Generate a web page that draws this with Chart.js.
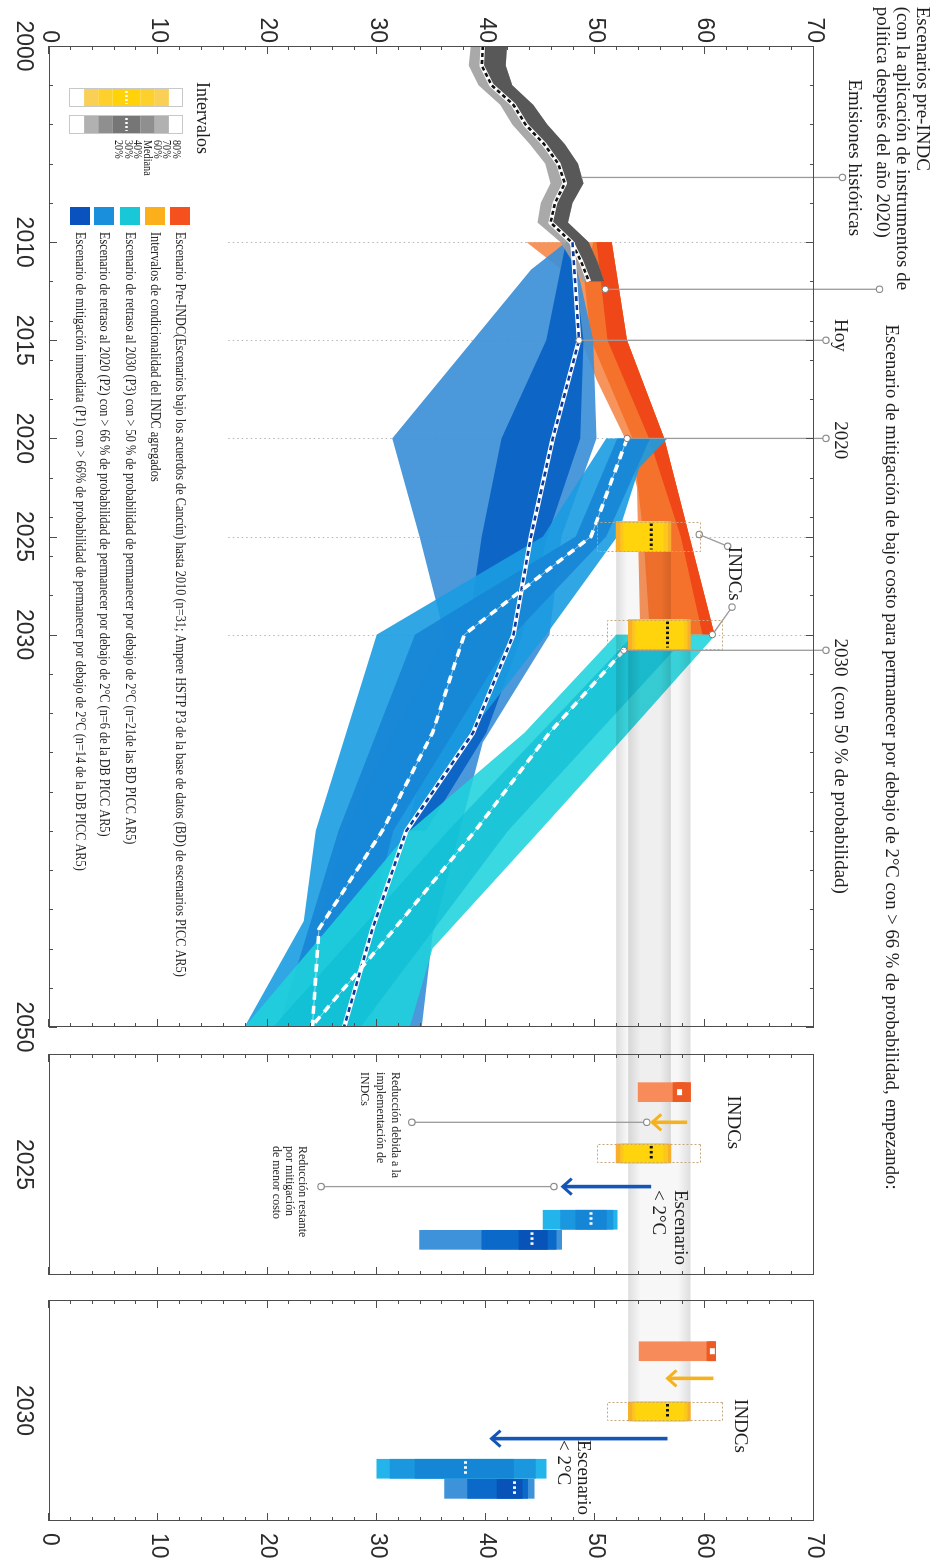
<!DOCTYPE html>
<html lang="es">
<head>
<meta charset="utf-8">
<title>Emisiones globales: escenarios pre-INDC, INDC y &lt; 2°C</title>
<script src="https://cdn.jsdelivr.net/npm/chart.js@4.4.1/dist/chart.umd.min.js"></script>
<style>
  html, body { margin: 0; padding: 0; background: #fff; }
  body { width: 943px; height: 1564px; overflow: hidden; position: relative; }
  /* la figura se compone en horizontal y se gira 90° */
  #lienzo { position: absolute; left: 0; top: 0; width: 1564px; height: 943px;
            transform-origin: 0 0; transform: translate(943px, 0) rotate(90deg); }
  #lienzo canvas { position: absolute; top: 0; }
</style>
</head>
<body>
<div id="lienzo">
  <canvas id="principal" width="1564" height="943" style="left:0"></canvas>
  <canvas id="panel2025" width="250" height="943" style="left:1040px"></canvas>
  <canvas id="panel2030" width="279" height="943" style="left:1285px"></canvas>
</div>
<script>
const SERIF = '"Liberation Serif", "Times New Roman", serif';
const SANS = '"Liberation Sans", Arial, sans-serif';

// ---------- ejes ----------
const marcasAnio = [2000, 2002, 2004, 2006, 2008, 2010, 2012, 2014, 2015, 2016, 2018, 2020, 2022, 2024, 2025,
                    2026, 2028, 2030, 2032, 2034, 2036, 2038, 2040, 2042, 2044, 2046, 2048, 2050];
const etiquetasAnio = [2000, 2010, 2015, 2020, 2025, 2030, 2050];
const marcasValor = [0, 10, 20, 30, 40, 50, 60, 70];
const aniosPunteados = [2010, 2015, 2020, 2025, 2030];
const aniosPanel = ['2025', '2030'];

// ---------- emisiones históricas ----------
const aniosHist = [2000, 2001, 2002, 2003, 2004, 2005, 2006, 2007, 2008, 2009, 2010, 2011, 2012];
const histMediana = [39.7, 39.6, 40.5, 42.5, 43.6, 45.3, 46.6, 47.2, 46.3, 45.9, 47.8, 48.7, 49.4];
const histBajo    = [38.6, 38.4, 39.3, 41.3, 42.4, 44.0, 45.4, 45.9, 45.0, 44.7, 46.8, 47.9, 48.8];
const histAlto    = [41.9, 41.8, 42.4, 44.3, 45.6, 47.2, 48.4, 48.9, 47.9, 47.5, 49.4, 50.2, 50.8];

// ---------- escenario pre-INDC ----------
const preExtBajo = [[2010, 43.7], [2012, 48.3], [2015, 48.7], [2017, 50.1], [2020, 52.7], [2022.5, 53.8], [2030, 54.1]];
const preExtAlto = [[2010, 51.5], [2015, 52.9], [2020, 56.3], [2030, 60.9]];
const preMedBajo = [[2010, 49.8], [2012, 49.0], [2015, 49.6], [2020, 53.4], [2025, 54.4], [2030, 55.0]];
const preMedAlto = [[2010, 51.5], [2015, 52.9], [2020, 56.3], [2030, 60.9]];
const preIntBajo = [[2010, 50.1], [2015, 51.1], [2020, 54.9], [2025, 57.8], [2030, 59.8]];
const preIntAlto = [[2010, 51.5], [2015, 52.9], [2020, 56.3], [2030, 60.9]];

// ---------- P1: mitigación inmediata ----------
const p1ExtBajo = [[2010, 47.3], [2011.4, 44.1], [2020, 31.4], [2025, 33.9], [2030, 36.2], [2035, 31.5], [2040, 27.0], [2045, 24.5], [2050, 22.0]];
const p1ExtAlto = [[2010, 47.6], [2012, 48.6], [2015, 49.8], [2020, 50.1], [2025, 46.9], [2030, 45.8], [2035.5, 39.7], [2045.3, 35.1], [2050, 34.1]];
const p1IntBajo = [[2010, 47.3], [2015, 45.5], [2020, 41.4], [2025, 39.6], [2030, 38.3], [2035, 35.2], [2040, 32.7]];
const p1IntAlto = [[2010, 47.8], [2015, 48.9], [2020, 48.6], [2025, 45.6], [2030, 43.3], [2035, 40.0], [2040, 34.5]];
const p1Mediana = [[2010, 47.9], [2015, 48.5], [2020, 46.1], [2025, 44.1], [2030, 42.5], [2035, 38.8], [2040, 32.7], [2045, 29.6], [2050, 27.0]];

// ---------- P2: retraso al 2020 ----------
const p2ExtBajo = [[2020, 51.0], [2025, 45.2], [2030, 30.0], [2040, 24.4], [2044.6, 23.3], [2050, 17.9]];
const p2ExtAlto = [[2020, 56.6], [2021.5, 54.0], [2025, 52.0], [2030, 45.5], [2035, 38.5], [2040, 33.0], [2045, 30.5], [2050, 29.6]];
const p2IntBajo = [[2020, 52.0], [2025, 48.2], [2030, 33.5], [2040, 26.5], [2050, 21.0]];
const p2IntAlto = [[2020, 55.0], [2025, 51.0], [2030, 42.5], [2040, 31.5], [2050, 27.0]];
const p2Mediana = [[2020, 52.9], [2025, 49.6], [2030, 38.0], [2035, 35.1], [2040, 30.5], [2045, 24.7], [2050, 24.1]];

// ---------- P3: retraso al 2030 ----------
const p3ExtBajo = [[2030, 51.9], [2035, 43.5], [2040, 33.0], [2045, 25.5], [2050, 17.9]];
const p3ExtAlto = [[2030, 61.0], [2035, 53.0], [2040, 44.9], [2046, 35.1], [2050, 33.0]];
const p3IntBajo = [[2030, 53.5], [2040, 36.5], [2050, 20.5]];
const p3IntAlto = [[2030, 58.5], [2040, 42.0], [2050, 28.5]];
const p3Mediana = [[2030.8, 52.6], [2035, 45.8], [2040, 39.0], [2045, 31.6], [2050, 24.0]];

// puntos marcados con línea guía
const puntosLlamada = [[2012.4, 50.9], [2015, 48.5], [2020, 52.9], [2030.8, 52.6], [2030, 60.7]];

// ---------- intervalos por año (p20, p30, p40, mediana, p60, p70, p80) ----------
const pre2025  = [53.9, 57.1, 57.4, 57.7, 58.2, 58.7, 58.7];
const indc2025 = [51.9, 52.3, 52.6, 55.1, 56.2, 56.6, 56.9];
const p2_2025  = [45.2, 46.8, 48.2, 49.6, 51.0, 51.6, 52.0];
const p1_2025  = [33.9, 39.6, 43.0, 44.2, 45.6, 46.4, 46.9];
const pre2030  = [54.0, 60.2, 60.4, 60.7, 60.9, 61.0, 61.0];
const indc2030 = [53.0, 53.4, 53.7, 56.6, 58.1, 58.4, 58.7];
const p2_2030  = [30.0, 31.2, 33.5, 38.1, 42.5, 44.5, 45.5];
const p1_2030  = [36.2, 38.3, 41.0, 42.6, 43.3, 43.8, 44.4];
const contornoIndc2025 = [50.3, 59.7];
const contornoIndc2030 = [51.2, 61.7];

// reducciones (desde, hasta)
const flechaIndc2025 = [58.4, 55.2];
const flechaMitig2025 = [55.1, 47.0];
const flechaIndc2030 = [60.8, 56.6];
const flechaMitig2030 = [56.6, 40.5];

// ---------- leyenda ----------
const leyendaColores = ['#f4511e', '#fbb01b', '#19c8d6', '#1a8fdc', '#0a52bd'];
const leyendaTextos = [
  'Escenario Pre-INDC(Escenarios bajo los acuerdos de Cancún) hasta 2010 (n=31; Ampere HSTP P3 de la base de datos (BD) de escenarios PICC AR5)',
  'Intervalos de condicionalidad del INDC agregados',
  'Escenario de retraso al 2030 (P3) con > 50 % de probabilidad de permanecer por debajo de 2°C (n=21de las BD PICC AR5)',
  'Escenario de retraso al 2020 (P2) con > 66 % de probabilidad de permanecer por debajo de 2°C (n=6 de la DB PICC AR5)',
  'Escenario de mitigación inmediata (P1) con > 66% de probabilidad de permanecer por debajo de 2°C (n=14 de la DB PICC AR5)'
];
const intervalosEtiquetas = ['80%', '70%', '60%', 'Mediana', '40%', '30%', '20%'];

// colores de los tramos de barra (exterior, medio, interior)
const colPre = ['#f78c5a', '#ee5a24', '#ee5a24'];
const colIndc = ['#f6b02a', '#fdc61c', '#ffd40c'];
const colP2 = ['#22b4ea', '#1a97df', '#1585d6'];
const colP1 = ['#3e92d9', '#0b69c9', '#0853b8'];

// ---------- utilidades ----------
const zip = (xs, ys) => xs.map((x, i) => [x, ys[i]]);
const pts = arr => arr.map(([x, y]) => ({ x, y }));
const poligono = (bajo, alto) => pts(bajo).concat(pts(alto).reverse());

function banda(bajo, alto, color) {
  return { type: 'line', data: poligono(bajo, alto), fill: 'shape', backgroundColor: color,
           borderWidth: 0, pointRadius: 0, tension: 0 };
}
function linea(data, color, ancho, guiones) {
  return { type: 'line', data: pts(data), fill: false, borderColor: color, borderWidth: ancho,
           borderDash: guiones || [], pointRadius: 0, tension: 0, borderCapStyle: 'butt', borderJoinStyle: 'round' };
}
// tres capas anidadas de barra flotante (p20-p80, p30-p70, p40-p60)
function capas(entradas, colores, grosor, extra) {
  return [0, 1, 2].map(k => Object.assign({
    type: 'bar',
    data: entradas.map(([x, p]) => ({ x, y: [p[k], p[6 - k]] })),
    backgroundColor: colores[k], borderWidth: 0, barThickness: grosor, grouped: false
  }, k === 2 ? Object.assign({ medianas: entradas.map(e => e[1][3]) }, extra) : {}));
}
function ordenar(lista) { lista.forEach((d, i) => { d.order = -i; }); return lista; }

function texto(ctx, str, x, y, o) {
  o = o || {};
  ctx.save();
  ctx.font = (o.size || 19) + 'px ' + (o.fam || SERIF);
  ctx.fillStyle = o.color || '#1e1e1e';
  ctx.textAlign = o.align || 'left';
  ctx.textBaseline = 'middle';
  if (o.comprimir) ctx.fillText(str, x, y, ctx.measureText(str).width * o.comprimir);
  else if (o.ancho) ctx.fillText(str, x, y, o.ancho);
  else ctx.fillText(str, x, y);
  ctx.restore();
}
function circulo(ctx, x, y) {
  ctx.beginPath(); ctx.arc(x, y, 3.2, 0, Math.PI * 2);
  ctx.fillStyle = '#fff'; ctx.fill();
  ctx.strokeStyle = '#8c8c8c'; ctx.lineWidth = 1.2; ctx.stroke();
}
function guia(ctx, x1, y1, x2, y2, extremos) {
  ctx.save();
  ctx.strokeStyle = '#9b9b9b'; ctx.lineWidth = 1.3;
  ctx.beginPath(); ctx.moveTo(x1, y1); ctx.lineTo(x2, y2); ctx.stroke();
  circulo(ctx, x1, y1);
  if (extremos) circulo(ctx, x2, y2);
  ctx.restore();
}
function flecha(ctx, x, y1, y2, color) {
  const dir = Math.sign(y2 - y1);
  ctx.save();
  ctx.strokeStyle = color; ctx.lineWidth = 3.6; ctx.lineCap = 'butt';
  ctx.beginPath(); ctx.moveTo(x, y1); ctx.lineTo(x, y2); ctx.stroke();
  ctx.lineWidth = 3; ctx.lineJoin = 'miter';
  ctx.beginPath(); ctx.moveTo(x - 8, y2 - dir * 9); ctx.lineTo(x, y2); ctx.lineTo(x + 8, y2 - dir * 9); ctx.stroke();
  ctx.restore();
}
function franja(ctx, y, rango, xa, xb) {
  const ya = y.getPixelForValue(rango[1]), yb = y.getPixelForValue(rango[0]);
  const g = ctx.createLinearGradient(0, ya, 0, yb);
  g.addColorStop(0, 'rgba(0,0,0,0.13)');
  g.addColorStop(0.2, 'rgba(0,0,0,0.03)');
  g.addColorStop(0.8, 'rgba(0,0,0,0.03)');
  g.addColorStop(1, 'rgba(0,0,0,0.13)');
  ctx.save(); ctx.fillStyle = g; ctx.fillRect(xa, ya, xb - xa, yb - ya); ctx.restore();
}

// marco con marcas interiores
const marco = {
  id: 'marco',
  afterDatasetsDraw(chart, args, opts) {
    const { ctx, chartArea: a, scales: { x, y } } = chart;
    ctx.save();
    ctx.strokeStyle = '#4d4d4d'; ctx.lineWidth = 1;
    ctx.strokeRect(Math.round(a.left) + 0.5, Math.round(a.top) + 0.5, Math.round(a.width) - 1, Math.round(a.height) - 1);
    ctx.beginPath();
    for (let v = y.min; v <= y.max; v += 2) {
      const py = Math.round(y.getPixelForValue(v)) + 0.5, l = v % 10 === 0 ? 8 : 4;
      ctx.moveTo(a.left, py); ctx.lineTo(a.left + l, py);
      ctx.moveTo(a.right - l, py); ctx.lineTo(a.right, py);
    }
    if (opts.anios) {
      marcasAnio.forEach(t => {
        const px = Math.round(x.getPixelForValue(t)) + 0.5, l = etiquetasAnio.includes(t) ? 8 : 4;
        ctx.moveTo(px, a.bottom); ctx.lineTo(px, a.bottom - l);
        ctx.moveTo(px, a.top); ctx.lineTo(px, a.top + l);
      });
    }
    ctx.stroke();
    ctx.restore();
  }
};

// medianas punteadas y contornos de las barras
const marcasBarras = {
  id: 'marcasBarras',
  afterDatasetsDraw(chart) {
    const { ctx } = chart, y = chart.scales.y;
    chart.data.datasets.forEach((ds, i) => {
      if (!ds.medianas) return;
      chart.getDatasetMeta(i).data.forEach((b, j) => {
        const x0 = b.x - b.width / 2, x1 = b.x + b.width / 2;
        ctx.save();
        if (ds.contornos) {
          const ya = y.getPixelForValue(ds.contornos[j][1]), yb = y.getPixelForValue(ds.contornos[j][0]);
          ctx.strokeStyle = '#c3a67a'; ctx.lineWidth = 1; ctx.setLineDash([2, 2]);
          ctx.strokeRect(Math.round(x0) + 0.5, Math.round(ya) + 0.5, Math.round(b.width) - 1, Math.round(yb - ya));
        }
        const ym = y.getPixelForValue(ds.medianas[j]);
        if (ds.estiloMediana === 'bloque') {
          ctx.setLineDash([]);
          ctx.fillStyle = '#fff'; ctx.fillRect(b.x - 3, ym - 2.5, 6, 5);
        } else {
          ctx.strokeStyle = ds.estiloMediana === 'negro' ? '#111' : '#fff';
          ctx.lineWidth = 3; ctx.setLineDash([2.5, 2.5]);
          ctx.beginPath(); ctx.moveTo(x0 + 2, ym); ctx.lineTo(x1 - 2, ym); ctx.stroke();
        }
        ctx.restore();
      });
    });
  }
};

function ejeX(min, max, marcas, etiqueta) {
  return {
    type: 'linear', min, max, offset: false,
    grid: { display: false, drawTicks: false }, border: { display: false },
    afterBuildTicks: s => { s.ticks = marcas.map(v => ({ value: v })); },
    afterFit: s => { s.height = 49; s.paddingLeft = 0; s.paddingRight = 0; },
    ticks: { autoSkip: false, maxRotation: 0, minRotation: 0, padding: 12,
             font: { family: SANS, size: 23 }, color: '#2b2b2b', callback: etiqueta }
  };
}
function ejeY(pos, ancho, padding, visible) {
  return {
    position: pos, display: visible, min: 0, max: 70,
    grid: { display: false, drawTicks: false }, border: { display: false },
    afterBuildTicks: s => { s.ticks = marcasValor.map(v => ({ value: v })); },
    afterFit: s => { s.width = ancho; s.paddingTop = 0; s.paddingBottom = 0; },
    ticks: { padding, font: { family: SANS, size: 23 }, color: '#2b2b2b', callback: v => String(v) }
  };
}
const opcionesBase = {
  responsive: false, animation: false, devicePixelRatio: 1,
  events: [],
  plugins: { legend: { display: false }, tooltip: { enabled: false } }
};

// ================= gráfico principal 2000-2050 =================
const dsPrincipal = ordenar([
  banda(preExtBajo, preExtAlto, '#f7945c'),
  banda(preMedBajo, preMedAlto, '#f5722c'),
  banda(preIntBajo, preIntAlto, '#ef4717'),
  banda(p1ExtBajo, p1ExtAlto, 'rgba(61,144,215,0.93)'),
  banda(p1IntBajo, p1IntAlto, 'rgba(10,99,196,0.95)'),
  banda(p2ExtBajo, p2ExtAlto, 'rgba(27,156,226,0.9)'),
  banda(p2IntBajo, p2IntAlto, 'rgba(22,133,213,0.85)'),
  banda(p3ExtBajo, p3ExtAlto, 'rgba(31,211,220,0.88)'),
  banda(p3IntBajo, p3IntAlto, 'rgba(16,190,212,0.7)'),
  banda(zip(aniosHist, histBajo), zip(aniosHist, histAlto), 'rgba(160,160,160,0.9)'),
  banda(zip(aniosHist, histMediana), zip(aniosHist, histAlto), 'rgba(80,80,80,0.9)'),
  linea(zip(aniosHist, histMediana), '#ffffff', 4.5),
  linea(zip(aniosHist, histMediana), '#111111', 2.6, [4, 3]),
  linea(p1Mediana, '#ffffff', 4.5),
  linea(p1Mediana, '#0c3a9c', 2.6, [5, 4]),
  linea(p2Mediana, 'rgba(255,255,255,0.55)', 1),
  linea(p2Mediana, '#ffffff', 3.6, [8, 6]),
  linea(p3Mediana, 'rgba(255,255,255,0.55)', 1),
  linea(p3Mediana, '#ffffff', 3.6, [8, 6]),
  ...capas([[2025, indc2025], [2030, indc2030]], colIndc, 30,
           { estiloMediana: 'negro', contornos: [contornoIndc2025, contornoIndc2030] }),
  { type: 'line', data: pts(puntosLlamada), showLine: false, pointRadius: 3.2,
    pointBackgroundColor: '#fff', pointBorderColor: '#777', pointBorderWidth: 1, conGuias: true }
]);
dsPrincipal.find(d => d.type === 'bar').conFranjas = true;

const anotacionesPrincipal = {
  id: 'anotacionesPrincipal',
  beforeDatasetsDraw(chart) {
    const { ctx, scales: { x, y } } = chart;
    ctx.save();
    ctx.strokeStyle = '#b5b5b5'; ctx.lineWidth = 1; ctx.setLineDash([1.5, 3]);
    ctx.beginPath();
    aniosPunteados.forEach(t => {
      const px = Math.round(x.getPixelForValue(t)) + 0.5;
      ctx.moveTo(px, y.getPixelForValue(16.4)); ctx.lineTo(px, y.getPixelForValue(70));
    });
    ctx.stroke();
    ctx.restore();
  },
  beforeDatasetDraw(chart, args) {
    const ds = chart.data.datasets[args.index];
    const { ctx, scales: { x, y } } = chart;
    const X = v => x.getPixelForValue(v), Y = v => y.getPixelForValue(v);
    if (ds.conFranjas) {
      const m = chart.getDatasetMeta(args.index).data;
      franja(ctx, y, [indc2025[0], indc2025[6]], m[0].x + m[0].width / 2, 1040);
      franja(ctx, y, [indc2030[0], indc2030[6]], m[1].x + m[1].width / 2, 1040);
    }
    if (ds.conGuias) {
      guia(ctx, X(2006.7), Y(72.6), X(2006.7), Y(48.7));
      guia(ctx, X(2012.4), Y(76.0), X(puntosLlamada[0][0]), Y(puntosLlamada[0][1]));
      guia(ctx, X(2015), Y(71.1), X(puntosLlamada[1][0]), Y(puntosLlamada[1][1]));
      guia(ctx, X(2020), Y(71.1), X(puntosLlamada[2][0]), Y(puntosLlamada[2][1]));
      guia(ctx, X(2030.8), Y(71.1), X(puntosLlamada[3][0]), Y(puntosLlamada[3][1]));
      guia(ctx, X(2025.5), Y(62.1), X(2024.9), Y(contornoIndc2025[1] - 0.2), true);
      guia(ctx, X(2028.6), Y(62.5), X(puntosLlamada[4][0]), Y(puntosLlamada[4][1]));
    }
  },
  afterDraw(chart) {
    const { ctx, chartArea: a, scales: { x, y } } = chart;
    const X = v => x.getPixelForValue(v), Y = v => y.getPixelForValue(v);
    // textos superiores
    texto(ctx, 'Escenarios pre-INDC', X(1998.0), Y(79.9));
    texto(ctx, '(con la aplicación de instrumentos de', X(1998.0), Y(78.05));
    texto(ctx, 'política después del año 2020)', X(1998.0), Y(76.2));
    texto(ctx, 'Emisiones históricas', X(2005.7), Y(73.7), { align: 'center' });
    texto(ctx, 'Escenario de mitigación de bajo costo para permanecer por debajo de 2°C con > 66 % de probabilidad, empezando:',
          X(2014.2), Y(77.0), { ancho: 865 });
    texto(ctx, 'Hoy', X(2014.75), Y(72.4), { align: 'center' });
    texto(ctx, '2020', X(2020.1), Y(72.4), { align: 'center' });
    texto(ctx, '2030  (con 50 % de probabilidad)', X(2030.2), Y(72.4));
    texto(ctx, 'INDCs', X(2026.9), Y(62.7), { align: 'center' });

    // leyenda de escenarios
    leyendaColores.forEach((c, i) => {
      const yc = a.bottom - [131, 106, 81, 55, 31][i];
      ctx.fillStyle = c;
      ctx.fillRect(a.left + 161, yc - 10, 18, 20);
      texto(ctx, leyendaTextos[i], a.left + 186, yc, { size: 15, comprimir: 0.82 });
    });

    // leyenda de intervalos
    texto(ctx, 'Intervalos', a.left + 72, a.bottom - 153, { size: 18, align: 'center' });
    const yP = p => a.bottom - 21 - (p - 10) / 80 * 113;
    const barra = (x0, cols) => {
      const tramos = [[20, 30, cols[0]], [30, 40, cols[1]], [40, 60, cols[2]], [60, 70, cols[1]], [70, 80, cols[0]]];
      tramos.forEach(([p0, p1, c]) => { ctx.fillStyle = c; ctx.fillRect(x0, yP(p1), 19, yP(p0) - yP(p1)); });
      ctx.strokeStyle = '#c8c8c8'; ctx.lineWidth = 1;
      ctx.strokeRect(x0 + 0.5, Math.round(yP(90)) + 0.5, 18, Math.round(yP(10) - yP(90)));
      ctx.save();
      ctx.strokeStyle = '#fff'; ctx.lineWidth = 2.5; ctx.setLineDash([2, 2]);
      ctx.beginPath(); ctx.moveTo(x0 + 3, yP(50)); ctx.lineTo(x0 + 16, yP(50)); ctx.stroke();
      ctx.restore();
    };
    barra(a.left + 42, ['#f9cf55', '#fdd02c', '#ffd20a']);
    barra(a.left + 69, ['#b1b1b1', '#8f8f8f', '#767676']);
    intervalosEtiquetas.forEach((t, i) => texto(ctx, t, a.left + 94, a.bottom - 127 + i * 9.6, { size: 12, comprimir: 0.85 }));
  }
};

new Chart(document.getElementById('principal'), {
  type: 'line',
  data: { datasets: dsPrincipal },
  options: Object.assign({}, opcionesBase, {
    layout: { padding: { top: 129, right: 537, bottom: 0, left: 0 } },
    plugins: Object.assign({}, opcionesBase.plugins, { marco: { anios: true } }),
    scales: {
      x: ejeX(2000, 2050, marcasAnio, v => etiquetasAnio.includes(v) ? String(v) : ''),
      y: ejeY('left', 46, 3, true)
    }
  }),
  plugins: [anotacionesPrincipal, marcasBarras, marco]
});

// ================= paneles 2025 y 2030 =================
const posiciones2025 = { pre: 1.9, flechaIndc: 3.4, indc: 4.95, flechaMitig: 6.6, p2: 8.25, p1: 9.25 };
const posiciones2030 = { pre: 2.55, flechaIndc: 3.9, indc: 5.55, flechaMitig: 6.9, p2: 8.4, p1: 9.4 };

function datosPanel(pos, pre, indc, p2, p1, contorno) {
  return ordenar([
    ...capas([[pos.pre, pre]], colPre, 19, { estiloMediana: 'bloque' }),
    ...capas([[pos.indc, indc]], colIndc, 19, { estiloMediana: 'negro', contornos: [contorno] }),
    ...capas([[pos.p2, p2]], colP2, 19, { estiloMediana: 'blanco' }),
    ...capas([[pos.p1, p1]], colP1, 19, { estiloMediana: 'blanco' })
  ]);
}

function panel(id, anio, datos, padding, ejeDerecho, extras) {
  new Chart(document.getElementById(id), {
    type: 'bar',
    data: { datasets: datos },
    options: Object.assign({}, opcionesBase, {
      layout: { padding },
      plugins: Object.assign({}, opcionesBase.plugins, { marco: { anios: false } }),
      scales: {
        x: ejeX(0, 11, [5.5], () => anio),
        y: ejeDerecho ? ejeY('right', 43, 12, true) : ejeY('left', 0, 0, false)
      }
    }),
    plugins: [extras, marcasBarras, marco]
  });
}

panel('panel2025', aniosPanel[0],
  datosPanel(posiciones2025, pre2025, indc2025, p2_2025, p1_2025, contornoIndc2025),
  { top: 129, right: 15, bottom: 0, left: 14 }, false,
  {
    id: 'anotaciones2025',
    beforeDatasetsDraw(chart) {
      const { ctx, scales: { y } } = chart;
      const bi = chart.getDatasetMeta(3).data[0];
      franja(ctx, y, [indc2025[0], indc2025[6]], 0, bi.x - bi.width / 2);
      franja(ctx, y, [indc2030[0], indc2030[6]], 0, 245);
    },
    afterDatasetsDraw(chart) {
      const { ctx, scales: { x, y } } = chart;
      const X = v => x.getPixelForValue(v), Y = v => y.getPixelForValue(v);
      guia(ctx, X(posiciones2025.flechaIndc), Y(54.7), X(posiciones2025.flechaIndc), Y(33.2), true);
      guia(ctx, X(posiciones2025.flechaMitig), Y(46.2), X(posiciones2025.flechaMitig), Y(24.9), true);
      flecha(ctx, X(posiciones2025.flechaIndc), Y(flechaIndc2025[0]), Y(flechaIndc2025[1]), '#f5b21e');
      flecha(ctx, X(posiciones2025.flechaMitig), Y(flechaMitig2025[0]), Y(flechaMitig2025[1]), '#1456b6');
      texto(ctx, 'INDCs', X(posiciones2025.flechaIndc), Y(62.6), { align: 'center' });
      texto(ctx, 'Escenario', X(6.77), Y(57.7));
      texto(ctx, '< 2°C', X(6.77), Y(55.7));
      ['Reducción debida a la', 'implementación de', 'INDCs'].forEach((t, i) =>
        texto(ctx, t, X(0.9), Y(31.7 - i * 1.4), { size: 13, comprimir: 0.92 }));
      ['Reducción restante', 'por mitigación', 'de menor costo'].forEach((t, i) =>
        texto(ctx, t, X(4.58), Y(23.2 - i * 1.2), { size: 13, comprimir: 0.92 }));
    }
  });

panel('panel2030', aniosPanel[1],
  datosPanel(posiciones2030, pre2030, indc2030, p2_2030, p1_2030, contornoIndc2030),
  { top: 129, right: 0, bottom: 0, left: 15 }, true,
  {
    id: 'anotaciones2030',
    beforeDatasetsDraw(chart) {
      const { ctx, scales: { y } } = chart;
      const bi = chart.getDatasetMeta(3).data[0];
      franja(ctx, y, [indc2030[0], indc2030[6]], 0, bi.x - bi.width / 2);
    },
    afterDatasetsDraw(chart) {
      const { ctx, scales: { x, y } } = chart;
      const X = v => x.getPixelForValue(v), Y = v => y.getPixelForValue(v);
      flecha(ctx, X(posiciones2030.flechaIndc), Y(flechaIndc2030[0]), Y(flechaIndc2030[1]), '#f5b21e');
      flecha(ctx, X(posiciones2030.flechaMitig), Y(flechaMitig2030[0]), Y(flechaMitig2030[1]), '#1456b6');
      texto(ctx, 'INDCs', X(6.27), Y(63.2), { align: 'center' });
      texto(ctx, 'Escenario', X(6.97), Y(48.9));
      texto(ctx, '< 2°C', X(6.97), Y(47.0));
    }
  });
</script>
</body>
</html>
